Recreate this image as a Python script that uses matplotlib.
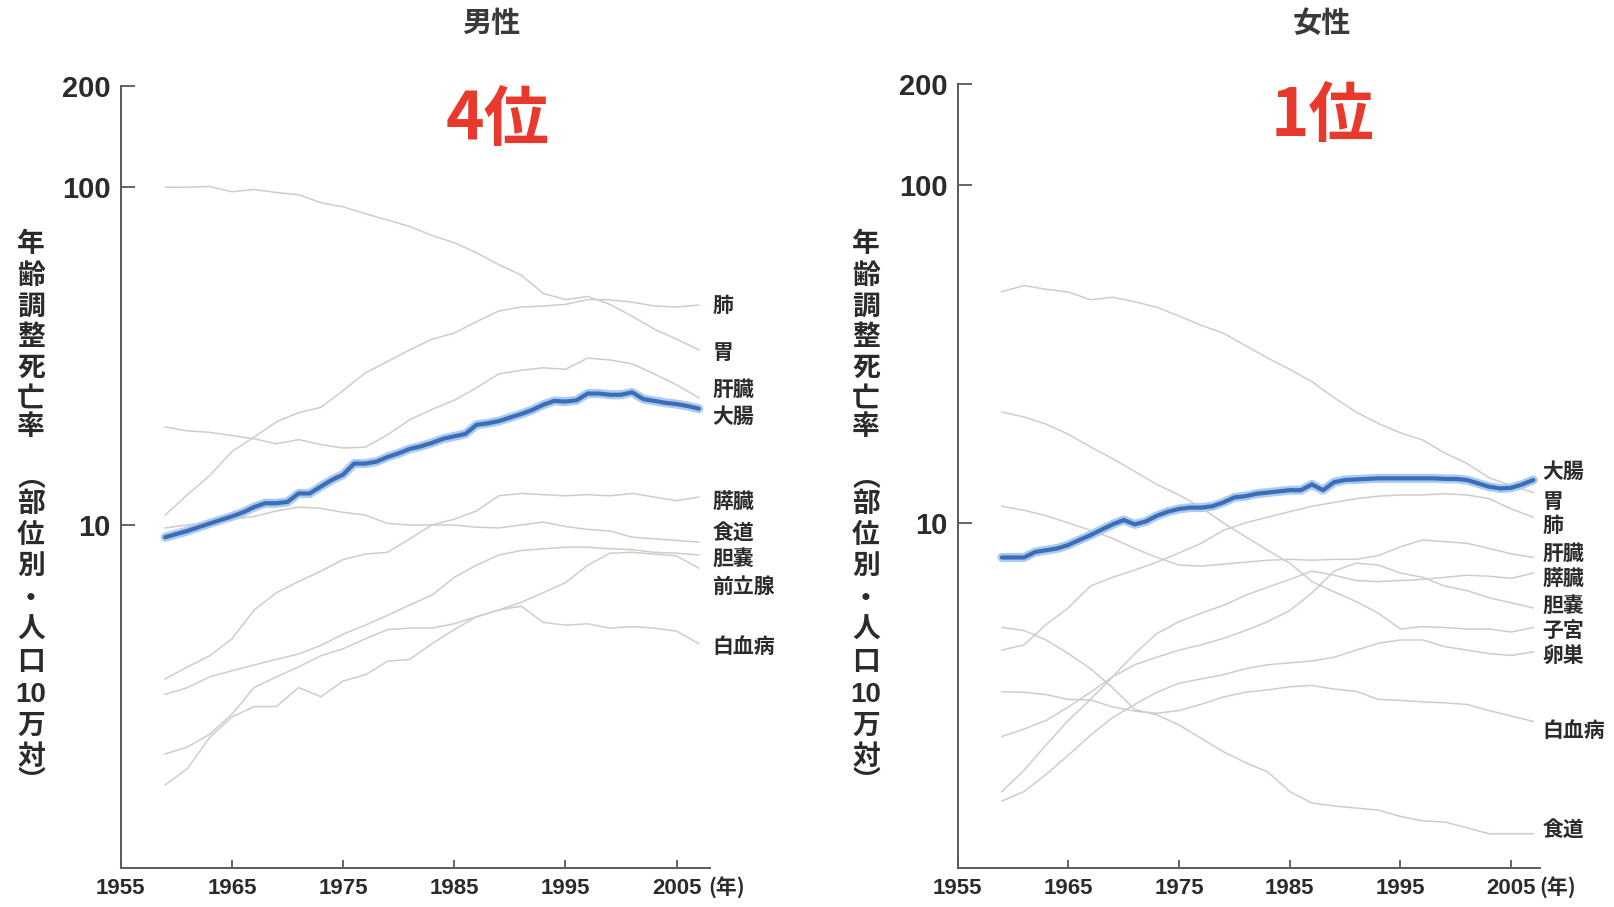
import numpy as np
import matplotlib
matplotlib.use("Agg")
import matplotlib.pyplot as plt
from matplotlib.ticker import NullLocator, FixedLocator
from matplotlib.transforms import blended_transform_factory

plt.rcParams["font.family"] = ["Noto Sans CJK JP", "DejaVu Sans"]

# ---------------------------------------------------------------- data
years_annual = np.arange(1959, 2008)        # 1959 ... 2007, every year
years_biennial = np.arange(1959, 2008, 2)   # 1959 ... 2007, every other year
tick_years = [1955, 1965, 1975, 1985, 1995, 2005]
y_ticks = [10, 100, 200]

# Male, age-adjusted mortality per 100k
colorectal_m = [9.2, 9.4, 9.6, 9.85, 10.1, 10.35, 10.6, 10.9, 11.3, 11.6,
                11.6, 11.7, 12.4, 12.4, 13.0, 13.6, 14.1, 15.2, 15.2, 15.4,
                15.9, 16.3, 16.8, 17.1, 17.5, 18.0, 18.3, 18.6, 19.8, 20.0,
                20.3, 20.8, 21.3, 21.9, 22.7, 23.3, 23.2, 23.4, 24.5, 24.5,
                24.3, 24.3, 24.7, 23.6, 23.3, 23.0, 22.8, 22.5, 22.1]
stomach_m = [100, 100, 100.5, 97, 98.5, 96.5, 95, 90, 87.5, 83.5, 80, 76.5,
             72, 68.5, 64, 59, 55, 48.5, 46.5, 47.5, 45, 41.5, 38, 35.5, 33]
lung_m = [10.7, 12.3, 14.0, 16.5, 18.2, 20.2, 21.5, 22.3, 25, 28.2, 30.5, 33,
          35.5, 37, 40, 43, 44.2, 44.5, 45, 46.5, 46.4, 45.7, 44.5, 44.2, 44.8]
liver_m = [19.5, 19.0, 18.8, 18.4, 18.0, 17.4, 17.9, 17.3, 16.9, 17.0, 18.5,
           20.5, 22.0, 23.4, 25.5, 28.0, 28.7, 29.2, 28.9, 31.2, 30.8, 30.0,
           28.0, 26.0, 23.8]
pancreas_m = [3.5, 3.8, 4.1, 4.6, 5.6, 6.3, 6.8, 7.3, 7.9, 8.2, 8.3, 9.1, 10.0,
              10.4, 11.0, 12.2, 12.4, 12.3, 12.2, 12.3, 12.2, 12.4, 12.1, 11.8,
              12.1]
esophagus_m = [9.8, 10.0, 10.2, 10.4, 10.6, 11.0, 11.3, 11.2, 10.9, 10.7, 10.1,
               10.0, 10.0, 10.0, 9.85, 9.8, 10.0, 10.2, 9.9, 9.7, 9.6, 9.2,
               9.1, 9.0, 8.9]
gallbladder_m = [3.15, 3.3, 3.55, 3.7, 3.85, 4.0, 4.15, 4.4, 4.75, 5.05, 5.4,
                 5.8, 6.2, 7.0, 7.6, 8.15, 8.4, 8.5, 8.6, 8.6, 8.5, 8.45, 8.3,
                 8.25, 8.15]
prostate_m = [1.7, 1.9, 2.35, 2.7, 2.9, 2.9, 3.3, 3.1, 3.45, 3.6, 3.95, 4.0,
              4.45, 4.9, 5.35, 5.6, 5.9, 6.3, 6.75, 7.6, 8.25, 8.3, 8.2, 8.1,
              7.45]
leukemia_m = [2.1, 2.2, 2.4, 2.75, 3.3, 3.55, 3.8, 4.1, 4.3, 4.6, 4.9, 4.95,
              4.95, 5.1, 5.35, 5.6, 5.75, 5.15, 5.05, 5.1, 4.95, 5.0, 4.95,
              4.85, 4.45]

# Female, age-adjusted mortality per 100k
colorectal_f = [7.9, 7.9, 7.9, 8.2, 8.3, 8.4, 8.6, 8.9, 9.2, 9.55,
                9.9, 10.2, 9.9, 10.1, 10.5, 10.8, 11.0, 11.1, 11.1, 11.2,
                11.5, 11.9, 12.0, 12.2, 12.3, 12.4, 12.5, 12.5, 13.0, 12.5,
                13.2, 13.4, 13.45, 13.5, 13.55, 13.55, 13.55, 13.55, 13.55, 13.55,
                13.5, 13.5, 13.4, 13.1, 12.8, 12.65, 12.7, 13.0, 13.4]
stomach_f = [48.4, 50.5, 49.2, 48.3, 45.8, 46.6, 45.2, 43.5, 41.0, 38.5, 36.5,
             33.5, 30.8, 28.5, 26.2, 23.5, 21.3, 19.7, 18.5, 17.6, 16.1, 15.0,
             13.6, 12.9, 12.3]
uterus_f = [21.3, 20.6, 19.6, 18.3, 16.8, 15.5, 14.2, 13.0, 12.1, 11.1, 10.0,
            9.1, 8.3, 7.6, 6.7, 6.25, 5.85, 5.4, 4.85, 4.93, 4.9, 4.85, 4.85,
            4.75, 4.9]
liver_f = [11.2, 10.9, 10.5, 10.0, 9.5, 9.0, 8.4, 7.9, 7.5, 7.45, 7.55, 7.65,
           7.75, 7.8, 7.75, 7.8, 7.8, 8.0, 8.5, 8.9, 8.8, 8.7, 8.4, 8.1, 7.9]
lung_f = [4.2, 4.35, 5.0, 5.6, 6.5, 6.9, 7.25, 7.65, 8.15, 8.7, 9.5, 10.0,
          10.4, 10.8, 11.2, 11.5, 11.8, 12.0, 12.1, 12.1, 12.2, 12.1, 11.8,
          11.0, 10.4]
pancreas_f = [1.6, 1.85, 2.2, 2.6, 3.0, 3.5, 4.1, 4.7, 5.1, 5.4, 5.7, 6.1,
              6.45, 6.8, 7.2, 7.0, 6.75, 6.7, 6.75, 6.8, 6.9, 7.0, 6.95,
              6.85, 7.1]
gallbladder_f = [2.33, 2.45, 2.6, 2.85, 3.15, 3.5, 3.8, 4.0, 4.2, 4.35, 4.55,
                 4.8, 5.1, 5.5, 6.2, 7.2, 7.6, 7.5, 7.1, 6.9, 6.5, 6.3, 6.0,
                 5.8, 5.6]
ovary_f = [1.5, 1.6, 1.8, 2.05, 2.35, 2.65, 2.9, 3.15, 3.35, 3.45, 3.55, 3.7,
           3.8, 3.85, 3.9, 4.0, 4.2, 4.4, 4.5, 4.5, 4.3, 4.2, 4.1, 4.05,
           4.15]
leukemia_f = [3.16, 3.15, 3.1, 3.0, 2.99, 2.85, 2.77, 2.73, 2.78, 2.9, 3.05,
              3.15, 3.2, 3.27, 3.3, 3.22, 3.17, 3.0, 2.98, 2.95, 2.93, 2.9,
              2.78, 2.68, 2.58]
esophagus_f = [4.9, 4.8, 4.5, 4.1, 3.7, 3.25, 2.8, 2.7, 2.52, 2.3, 2.1, 1.95,
               1.83, 1.6, 1.48, 1.45, 1.43, 1.41, 1.35, 1.31, 1.3, 1.25, 1.2,
               1.2, 1.2]

male_gray = [stomach_m, lung_m, liver_m, pancreas_m, esophagus_m,
             gallbladder_m, prostate_m, leukemia_m]
female_gray = [stomach_f, uterus_f, liver_f, lung_f, pancreas_f,
               gallbladder_f, ovary_f, leukemia_f, esophagus_f]

# Site labels at the right edge and the height (data units) they sit at
male_labels = ["肺", "胃", "肝臓", "大腸", "膵臓", "食道", "胆嚢", "前立腺", "白血病"]
male_label_pos = [44.6, 32.5, 25.2, 20.9, 11.75, 9.52, 7.98, 6.56, 4.37]
female_labels = ["大腸", "胃", "肺", "肝臓", "膵臓", "胆嚢", "子宮", "卵巣", "白血病", "食道"]
female_label_pos = [14.2, 11.6, 9.8, 8.1, 6.85, 5.7, 4.79, 4.02, 2.42, 1.24]

# ---------------------------------------------------------------- style
W, H = 1614, 907
GRAY = "#d3cbc8"
BLUE = "#3e6db8"
HALO = "#a8cbef"
AXIS = "#5e5858"
TEXT = "#2b2b2b"
RED = "#e8392c"

fig = plt.figure(figsize=(W / 100, H / 100), dpi=100)
fig.patch.set_facecolor("white")


def px_axes(x0, x1, y_top, y_bot):
    return fig.add_axes([x0 / W, 1 - y_bot / H, (x1 - x0) / W, (y_bot - y_top) / H])


def style_axes(ax, xlim, ylim):
    ax.set_yscale("log")
    ax.set_xlim(*xlim)
    ax.set_ylim(*ylim)
    ax.yaxis.set_major_locator(FixedLocator(y_ticks))
    ax.yaxis.set_minor_locator(NullLocator())
    ax.set_yticklabels([str(v) for v in y_ticks])
    ax.xaxis.set_major_locator(FixedLocator(tick_years))
    ax.set_xticklabels([str(v) for v in tick_years])
    for s in ("top", "right"):
        ax.spines[s].set_visible(False)
    for s in ("left", "bottom"):
        ax.spines[s].set_color(AXIS)
        ax.spines[s].set_linewidth(1.4)
    ax.tick_params(axis="y", direction="in", length=10, width=1.3, color=AXIS,
                   pad=7, labelcolor=TEXT)
    ax.tick_params(axis="x", direction="in", length=6, width=1.3, color=AXIS,
                   pad=7, labelcolor=TEXT)
    for lab in ax.get_yticklabels():
        lab.set_fontfamily(["Liberation Sans", "DejaVu Sans"])
        lab.set_fontweight("bold")
        lab.set_fontsize(21)
    for lab in ax.get_xticklabels():
        lab.set_fontfamily(["Liberation Sans", "DejaVu Sans"])
        lab.set_fontweight("bold")
        lab.set_fontsize(16)
    ax.set_facecolor("none")


def draw_panel(ax, gray_series, blue_series, labels, label_pos, unit_x):
    for s in gray_series:
        ax.plot(years_biennial, s, color=GRAY, lw=1.1, zorder=2)
    ax.plot(years_annual, blue_series, color=HALO, lw=6.5, zorder=3,
            solid_joinstyle="round", solid_capstyle="round")
    ax.plot(years_annual, blue_series, color=BLUE, lw=3, zorder=4,
            solid_joinstyle="round", solid_capstyle="round")
    tr = blended_transform_factory(ax.transAxes, ax.transData)
    for name, yv in zip(labels, label_pos):
        ax.text(1.004, yv, name, transform=tr, ha="left", va="center",
                fontsize=15, fontweight="bold", color=TEXT)
    ax.text(unit_x, -0.026, "(年)", transform=ax.transAxes, ha="center",
            va="center", fontsize=15, fontweight="bold", color=TEXT)


ax_m = px_axes(120.7, 710.0, 85.6, 868.0)
style_axes(ax_m, (1955, 2008), (0.9645, 200))
draw_panel(ax_m, male_gray, colorectal_m, male_labels, male_label_pos, 1.0275)

ax_f = px_axes(957.6, 1540.0, 83.7, 868.0)
style_axes(ax_f, (1955, 2007.6), (0.95, 200))
draw_panel(ax_f, female_gray, colorectal_f, female_labels, female_label_pos, 1.030)

# Panel headings and rank
fig.text(491 / W, 1 - 23 / H, "男性", ha="center", va="center",
         fontsize=21, fontweight="bold", color="#3a3a3a")
fig.text(1322 / W, 1 - 23 / H, "女性", ha="center", va="center",
         fontsize=21, fontweight="bold", color="#3a3a3a")
fig.text(498 / W, 1 - 121 / H, "4位", ha="center", va="center",
         fontsize=47, fontweight="bold", color=RED)
fig.text(1322 / W, 1 - 116 / H, "1位", ha="center", va="center",
         fontsize=47, fontweight="bold", color=RED)

# Vertical y-axis caption, one character cell at a time
caption = ["年", "齢", "調", "整", "死", "亡", "率", "︵", "部", "位", "別",
           "・", "人", "口", "10", "万", "対", "︶"]
caption_y = [244, 276, 307, 337, 368, 399, 427, 478, 504, 535, 566, 599,
             630, 662, 695, 726, 757, 782]
for x_px in (31, 866):
    for ch, y_px in zip(caption, caption_y):
        fam = ["Liberation Sans", "DejaVu Sans"] if ch == "10" else ["Noto Sans CJK JP", "DejaVu Sans"]
        fig.text(x_px / W, 1 - y_px / H, ch, ha="center", va="center",
                 fontsize=20, fontweight="bold", color=TEXT, family=fam)

fig.savefig("out.png", dpi=100, facecolor="white")
